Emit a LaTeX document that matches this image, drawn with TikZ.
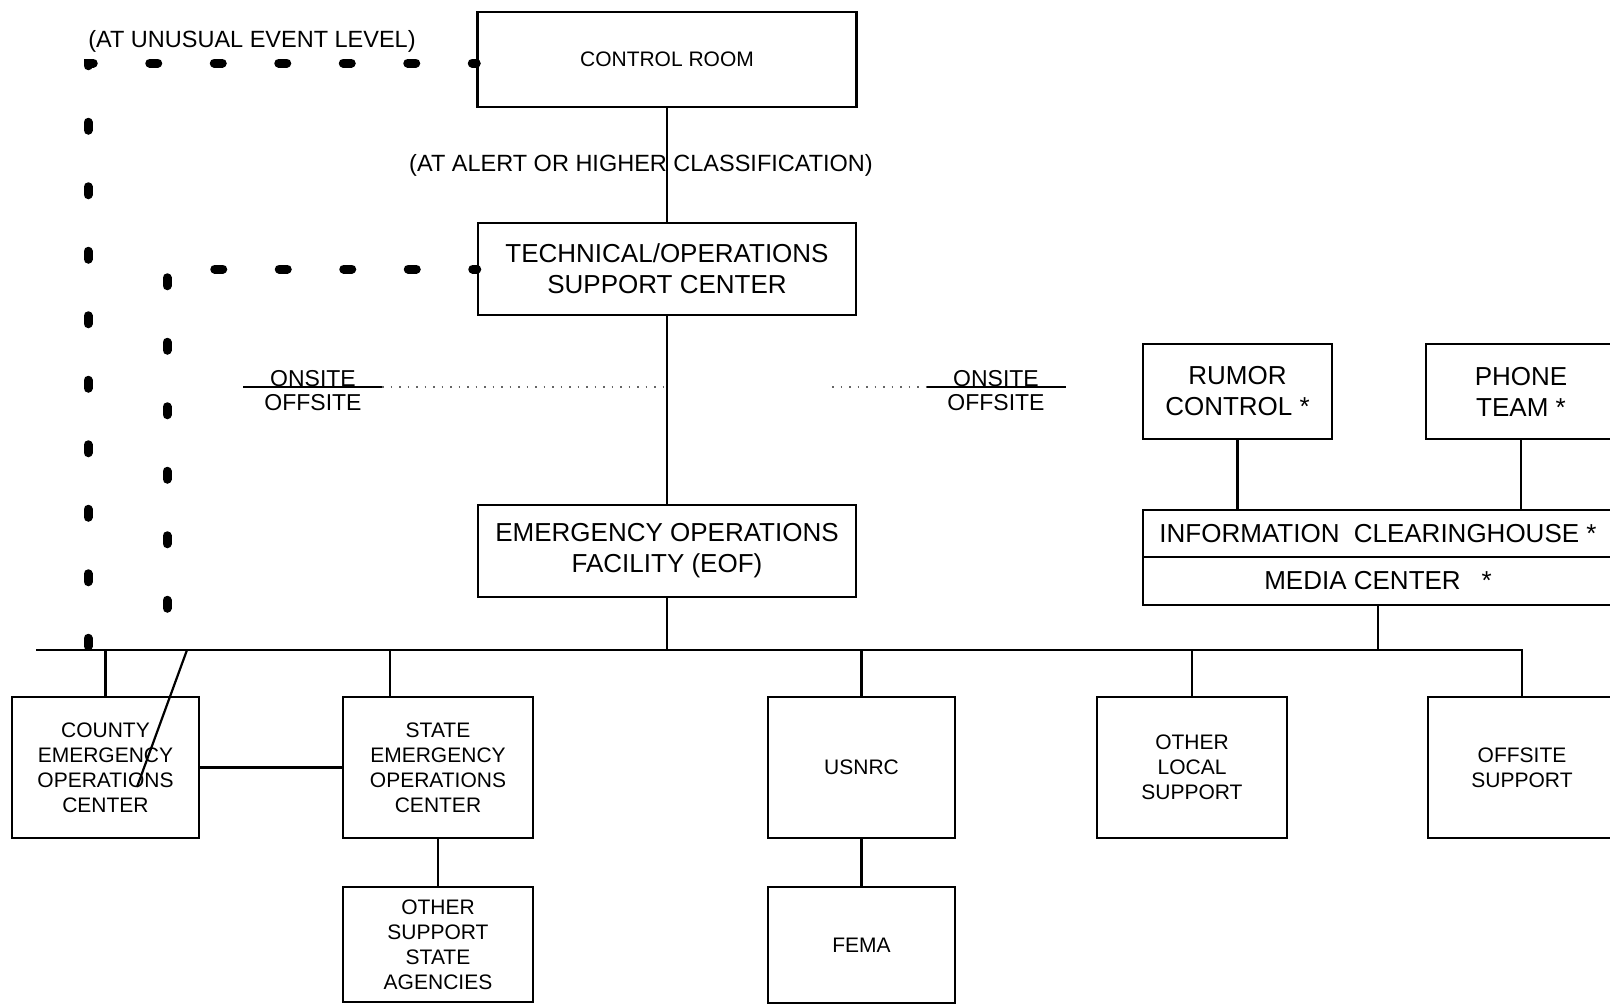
\documentclass[tikz,border=0pt]{standalone}
\usepackage{fontspec}
\setmainfont{Liberation Sans}

\begin{document}
\begin{tikzpicture}[x=1pt,y=-1pt,line width=2.2pt]
  \tikzstyle{every node}=[inner sep=0pt,align=center,text=black]
  \tikzstyle{box}=[draw,line width=2.5pt,fill=none]
  \tikzstyle{bigtext}=[font=\fontsize{26}{31}\selectfont]
  \tikzstyle{smalltext}=[font=\fontsize{21}{25}\selectfont]
  \tikzstyle{note}=[font=\fontsize{23.5}{28}\selectfont]
  \tikzstyle{sitetext}=[font=\fontsize{23}{24}\selectfont]
  \tikzstyle{heavydash}=[line width=9pt,line cap=round,dash pattern=on 8pt off 56.5pt,dash phase=4pt]
  \tikzstyle{scandots}=[line width=1.2pt,black!60,dash pattern=on 1.5pt off 7pt]
  \useasboundingbox (0,0) rectangle (1610,1004);

  % onsite boxes
  \node[box,smalltext,minimum width=379pt,minimum height=95pt] (cr)  at (667,59.5) {CONTROL ROOM};
  \node[box,bigtext,minimum width=378pt,minimum height=92pt]  (tsc) at (667,269)  {TECHNICAL/OPERATIONS\\SUPPORT CENTER};
  \node[box,bigtext,minimum width=378pt,minimum height=92pt]  (eof) at (667,551)  {EMERGENCY OPERATIONS\\FACILITY (EOF)};

  % public information
  \node[box,bigtext,minimum width=189pt,minimum height=95pt] (rumor) at (1237.5,391.5) {RUMOR\\CONTROL *};
  \node[box,bigtext,minimum width=190pt,minimum height=95pt] (phone) at (1521,391.5)   {PHONE\\TEAM *};
  \node[box,bigtext,minimum width=470pt,minimum height=47pt] (info)  at (1378,533.5)   {INFORMATION\hspace{0.55em}CLEARINGHOUSE *};
  \node[box,bigtext,minimum width=470pt,minimum height=48pt] (media) at (1378,581)     {MEDIA CENTER\hspace{0.8em}*};

  % offsite agencies
  \node[box,smalltext,minimum width=187pt,minimum height=141pt] (county)  at (105.5,767.5) {COUNTY\\EMERGENCY\\OPERATIONS\\CENTER};
  \node[box,smalltext,minimum width=190pt,minimum height=141pt] (state)   at (438,767.5)   {STATE\\EMERGENCY\\OPERATIONS\\CENTER};
  \node[box,smalltext,minimum width=190pt,minimum height=115pt] (agency)  at (438,944.5)   {OTHER\\SUPPORT\\STATE\\AGENCIES};
  \node[box,smalltext,minimum width=187pt,minimum height=141pt] (usnrc)   at (861.5,767.5) {USNRC};
  \node[box,smalltext,minimum width=187pt,minimum height=116pt] (fema)    at (861.5,945)   {FEMA};
  \node[box,smalltext,minimum width=190pt,minimum height=141pt] (local)   at (1192,767.5)  {OTHER\\LOCAL\\SUPPORT};
  \node[box,smalltext,minimum width=188pt,minimum height=141pt] (offsite) at (1522,767.5)  {OFFSITE\\SUPPORT};

  % labels
  \node[note] (unusual) at (252,41)  {(AT UNUSUAL EVENT LEVEL)};
  \node[note] (alert)   at (641,165) {(AT ALERT OR HIGHER CLASSIFICATION)};
  \node[sitetext,anchor=base] (onL)  at (313,386) {ONSITE};
  \node[sitetext,anchor=base] (offL) at (313,410) {OFFSITE};
  \node[sitetext,anchor=base] (onR)  at (996,386) {ONSITE};
  \node[sitetext,anchor=base] (offR) at (996,410) {OFFSITE};

  \coordinate (busL) at (36,650);
  \coordinate (sdrop) at (390,650);
  \coordinate (diagA) at (187,650);
  \coordinate (diagB) at (137,787);
  \coordinate (outerEnd) at (88,650);
  \coordinate (innerEnd) at (167,650);
  \coordinate (sepL1) at (243,387);
  \coordinate (sepL2) at (382,387);
  \coordinate (dotR)  at (832,387);
  \coordinate (sepR1) at (927,387);
  \coordinate (sepR2) at (1066,387);

  % chain of command
  \path (cr) edge (tsc)
        (tsc) edge (eof)
        (rumor.south) edge (rumor.south |- info.north)
        (phone.south) edge (phone.south |- info.north)
        (county) edge (state)
        (state) edge (agency)
        (usnrc) edge (fema);

  % offsite bus
  \draw[line width=2.5pt] (busL) -| (offsite.north);
  \draw (eof.south) -- (eof.south |- busL);
  \draw (media.south) -- (media.south |- busL);
  \draw (county.north) -- (county.north |- busL);
  \draw (sdrop) -- (sdrop |- state.north);
  \draw (usnrc.north) -- (usnrc.north |- busL);
  \draw (local.north) -- (local.north |- busL);
  \draw (diagA) -- (diagB);

  % notification lines
  \draw[heavydash] ([yshift=-3.5pt]cr.west) -| (outerEnd);
  \draw[heavydash] (tsc.west) -| (innerEnd);

  % onsite / offsite boundary
  \draw (sepL1) -- (sepL2);
  \draw (sepR1) -- (sepR2);
  \draw[scandots] (sepL2) -- (sepL2 -| eof.north);
  \draw[scandots] (dotR) -- (sepR1);
\end{tikzpicture}
\end{document}
